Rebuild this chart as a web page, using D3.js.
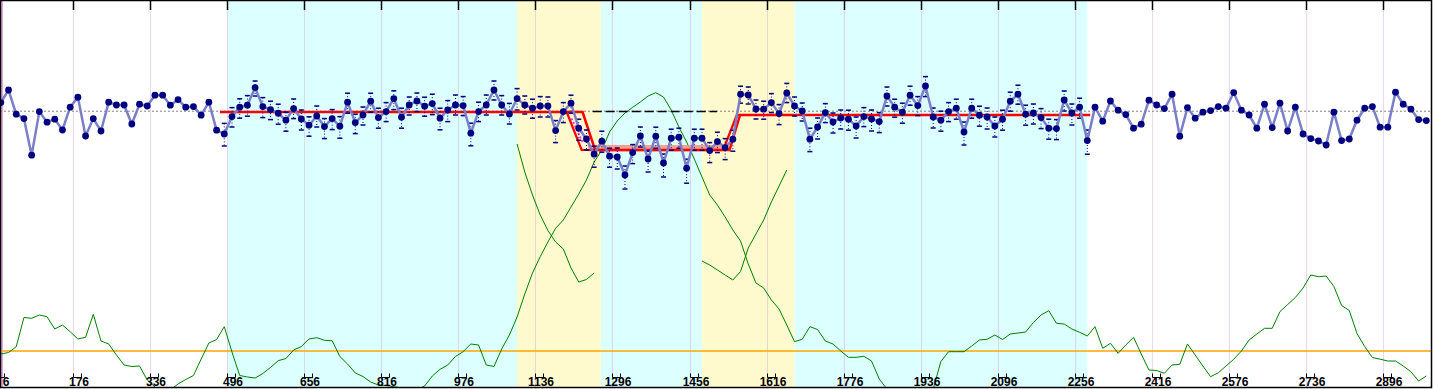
<!DOCTYPE html>
<html><head><meta charset="utf-8">
<script src="https://cdn.jsdelivr.net/npm/d3@7"></script>
<style>body{margin:0;background:#fff}svg{display:block}</style>
</head><body><svg id="c" width="1433" height="389"></svg>
<script>
// ---- data ----
const firstSample = 26, sampleStep = 16;
const values = [48.7,55,42.9,40.7,22.4,44.2,38.9,40.4,35,46.4,51.4,32,40.7,34.5,48.9,47.5,47.5,38,47.9,47,
52.4,52.4,47.4,50.2,46.4,46.7,42.4,48.9,34.9,33,41.7,46.4,47.4,56.2,46.7,45.2,43.4,39.9,45.7,40.5,
37.4,42,36.7,40.7,36.9,48.9,38.7,42.5,49.4,41.2,44.2,50.7,41.4,47.5,49.5,46.9,48.2,40.9,45,47.5,
47.2,33.4,44.2,47.5,55,47.5,43,50.7,47.5,45.9,47,47,34.7,44.2,48.4,35.9,30.5,22.9,29.4,21.9,
21.5,12.5,23.7,32,20.5,31.9,18.5,30.9,31.4,15.9,30.9,30.9,24.7,29.2,26.2,30.4,52.9,52.5,45.5,45.4,
48.7,43.2,53.5,47,44.5,30.4,36.5,43.7,39,41,40.4,37,41.7,40.5,39.2,52,46.4,43.9,52.4,47.2,
57,41.5,39.9,44.2,45.9,34,45.9,42.4,41.5,37,40.4,49.4,52.9,42.9,43.5,41.2,35.9,35.7,50,43.5,
46.4,29.7,46.4,39.4,49.5,44.9,42.7,35.9,37.9,49.9,47.5,45.7,52.9,31.9,46.2,40.9,43.9,44.7,46.7,45.9,
53.7,44.9,42.5,35.9,47.9,36.2,48.4,34.5,46.4,33,30.7,29.5,27.5,43.9,29.7,30.5,39.9,45.9,46.7,36.4,
36.4,53.9,47.9,45.4,40.2,39.7];
// error bar spreads for samples 29..141
const errFirst = 29;
const errHi = [5.3,4.5,4.2,4.8,3.3,4.5,4.2,4.5,4.0,4.8,4.5,4.2,5.0,4.0,4.5,4.8,4.5,4.2,4.0,4.0,
4.7,4.5,3.9,4.5,4.0,4.0,4.5,4.7,5.0,4.7,5.0,4.5,5.0,4.7,5.0,4.5,4.7,5.3,5.0,4.5,
4.5,4.7,4.5,5.0,4.5,4.0,4.5,4.5,4.0,5.0,4.0,4.5,4.5,4.0,4.5,4.0,4.5,4.5,4.5,4.5,
4.5,4.5,4.5,4.0,4.7,4.5,4.5,4.0,4.0,4.5,4.0,4.5,4.5,4.8,4.5,4.0,5.5,4.5,4.5,4.5,
4.0,4.5,4.5,4.5,4.5,4.5,4.5,4.0,4.5,4.5,4.5,4.7,4.5,4.5,4.5,4.5,5.0,4.5,4.5,4.5,
4.5,4.5,4.5,4.5,4.5,4.5,4.5,4.5,4.5,4.5,4.5,4.5,5.3];
const errLo = [6.0,5.2,5.5,5.5,4.2,5.5,5.0,5.5,5.5,5.0,5.5,5.5,5.5,6.0,5.5,6.0,5.5,5.5,5.0,5.5,
5.3,5.0,5.5,5.5,5.0,5.3,5.0,5.5,5.8,5.8,5.0,5.0,6.3,5.0,5.0,5.0,5.0,5.0,5.7,4.5,
5.0,5.5,5.5,6.0,5.5,5.0,6.0,5.5,6.5,5.5,5.5,6.0,7.0,5.5,5.5,6.5,6.0,7.0,6.0,5.5,
7.5,6.0,6.0,6.0,5.5,6.0,6.0,4.5,4.5,5.0,5.0,5.0,5.5,4.8,5.0,5.0,6.2,6.0,5.0,5.5,
5.5,5.5,6.0,5.0,6.0,5.5,5.0,5.0,5.5,5.0,5.0,5.3,5.5,5.5,5.0,5.5,6.5,5.0,5.5,6.0,
5.5,5.5,5.0,5.0,5.5,5.5,5.5,5.5,5.5,5.5,6.0,5.5,6.8];
// lower statistic (green) per sample
const stat = [35,36.5,42.3,71.5,70.7,74,72.3,60,64,57.3,50,51.7,74.7,48,45,34,24,22.5,23,9,
2,-4,-1,5,9.5,13.5,30,46,49.5,62.3,37,13.5,12,11,15.5,21.5,28.3,30.5,39,42.5,
50,51.3,48.7,48.3,32.5,25,16,12.5,7,4,3.5,2.3,1,0,-1,3,13,19.7,24,32.5,
37.3,45,44,24,22.5,40,54,72,95,116,132.3,147,160.7,169,182,195,209,227,239,257,
268,276,281.7,287,293,296.3,292,279,262,247,230,212,194,184,172,159,148,125,106,101,
89,80,64,47.3,49.7,62.3,59.5,48,45,38,31.7,31.7,32.7,28,10,0,-3,-4,-4,-4,
-3,0,27.5,37.3,37.3,37.3,43,49,49.7,54,49.5,55,56,57,66.5,74,78.3,65.7,65,60,
56.7,53,62.3,40.7,45.7,35.7,44,51.7,35,19,18.5,15.7,24,24.7,45,34,23,12.3,16.2,23,
29.7,38,49,55,60.7,60.7,77.3,84.5,91.5,101,114,112.3,113,102.5,83.5,78.5,55.5,42.5,31.5,29.8,
28,28,23,17.3,8,13];
const curveAFirst = 67, curveA = [245,217,194,174,158.5,147,140,121,107,109.5,116];
const curveBFirst = 91, curveB = [128,124,119,114,109,117.5,141,155,169,187,203,219];
const statLimit = 38;
const meanLevel = 44.4;
const refLevel = 44.2, refSpan = [1255, 1513];
const levelPath = [[481,44],[1234,44],[1260,25],[1539,25],[1561,42.5],[2288,42.5]];
const shiftEdges = [[[1201,44],[1232,25],[1260,25]], [[1526,25],[1554,42.5],[1561,42.5]]];
const shiftHints = [[[1211,40.8],[1235,28.4]], [[1542,27.5],[1556,41.5]]];
const bandSpan = [1245, 1523], bandLevels = [27.5, 24.3];
const regions = [[496,1098,"cyan"],[1098,1272,"yellow"],[1272,1482,"cyan"],[1482,1674,"yellow"],[1674,2282,"cyan"]];
const tickValues = [16,176,336,496,656,816,976,1136,1296,1456,1616,1776,1936,2096,2256,2416,2576,2736,2896];
const tickLabels = ["6","176","336","496","656","816","976","1136","1296","1456","1616","1776","1936","2096","2256","2416","2576","2736","2896"];

// ---- drawing ----
const W = 1433, H = 389;
const svg = d3.select("#c");
const x = d3.scaleLinear().domain([16, 2896]).range([-4, 1383]);
const y = d3.scaleLinear().domain([0, 100]).range([200, 0]);
const yS = d3.scaleLinear().domain([0, 300]).range([389, 89]);
const sx = k => x(firstSample + sampleStep * k);

svg.append("defs").append("clipPath").attr("id","clip")
  .append("rect").attr("x",0).attr("y",0).attr("width",W-1).attr("height",388);
const g = svg.append("g").attr("clip-path","url(#clip)");

g.append("rect").attr("x",0).attr("y",0).attr("width",W).attr("height",H).attr("fill","#fff");
const colors = {cyan:"#dcffff", yellow:"#fffacd"};
g.selectAll("rect.band").data(regions).join("rect").attr("class","band")
  .attr("x", d => x(d[0])).attr("width", d => x(d[1]) - x(d[0]))
  .attr("y",0).attr("height",H).attr("fill", d => colors[d[2]]);

// grid
g.selectAll("line.grid").data(tickValues).join("line").attr("class","grid")
  .attr("x1", d => Math.round(x(d)) + 0.5).attr("x2", d => Math.round(x(d)) + 0.5)
  .attr("y1",0).attr("y2",H).attr("stroke","rgba(205,150,215,0.38)").attr("stroke-width",1);
g.append("rect").attr("x",0).attr("y",0).attr("width",3).attr("height",H).attr("fill","#dca6dc");

// limit line (orange)
g.append("line").attr("x1",0).attr("x2",W).attr("y1",yS(statLimit)).attr("y2",yS(statLimit))
  .attr("stroke","#ffa500").attr("stroke-width",1.5);

// green statistic
const gl = d3.line().x(d => sx(d[0])).y(d => yS(d[1]));
g.append("path").attr("d", gl(stat.map((v,i)=>[i,v]))).attr("fill","none").attr("stroke","#008000").attr("stroke-width",1);
g.append("path").attr("d", gl(curveA.map((v,i)=>[i+curveAFirst,v]))).attr("fill","none").attr("stroke","#008000").attr("stroke-width",1);
g.append("path").attr("d", gl(curveB.map((v,i)=>[i+curveBFirst,v]))).attr("fill","none").attr("stroke","#008000").attr("stroke-width",1);

// mean dotted
g.append("line").attr("x1",0).attr("x2",W).attr("y1",y(meanLevel)).attr("y2",y(meanLevel))
  .attr("stroke","#808080").attr("stroke-width",1).attr("stroke-dasharray","2,2");
// reference dashed
g.append("line").attr("x1",x(refSpan[0])).attr("x2",x(refSpan[1])).attr("y1",y(refLevel)).attr("y2",y(refLevel))
  .attr("stroke","#000").attr("stroke-width",1.5).attr("stroke-dasharray","9,4");
// salmon band
g.append("rect").attr("x",x(bandSpan[0])).attr("width",x(bandSpan[1])-x(bandSpan[0]))
  .attr("y",y(bandLevels[0])).attr("height",y(bandLevels[1])-y(bandLevels[0]))
  .attr("fill","#f4937e").attr("opacity",0.85);

// red levels
const rl = d3.line().x(d => x(d[0])).y(d => y(d[1]));
shiftHints.forEach(p => g.append("path").attr("d", rl(p)).attr("fill","none")
  .attr("stroke","#ff33cc").attr("stroke-width",2).attr("stroke-dasharray","2,2"));
g.append("path").attr("d", rl(levelPath)).attr("fill","none").attr("stroke","#ff0000").attr("stroke-width",2.5);
shiftEdges.forEach(p => g.append("path").attr("d", rl(p)).attr("fill","none")
  .attr("stroke","#ff0000").attr("stroke-width",2.2));

// error bars
const eb = errHi.map((h,i) => ({k:i+errFirst, v:values[i+errFirst], hi:h, lo:errLo[i]}));
const ebg = g.append("g");
eb.forEach(d => {
  const cx = sx(d.k), yt = y(d.v + d.hi), yb = y(d.v - d.lo);
  ebg.append("line").attr("x1",cx).attr("x2",cx).attr("y1",yt).attr("y2",yb)
    .attr("stroke","#000080").attr("stroke-width",1).attr("stroke-dasharray","1,2");
  [yt, yb].forEach(yy => ebg.append("line").attr("x1",cx-2.5).attr("x2",cx+2.5).attr("y1",yy).attr("y2",yy)
    .attr("stroke","#000080").attr("stroke-width",1.5));
});

// main series
const ml = d3.line().x((d,i) => sx(i)).y(d => y(d));
g.append("path").attr("d", ml(values)).attr("fill","none").attr("stroke","#7a7fc8").attr("stroke-width",2.5);
g.selectAll("circle.pt").data(values).join("circle").attr("class","pt")
  .attr("cx",(d,i)=>sx(i)).attr("cy",d=>y(d)).attr("r",3.4).attr("fill","#000080");

// top ticks
g.selectAll("line.tt").data(tickValues).join("line").attr("class","tt")
  .attr("x1", d => Math.round(x(d)) + 0.5).attr("x2", d => Math.round(x(d)) + 0.5)
  .attr("y1",0).attr("y2",10).attr("stroke","#000").attr("stroke-width",1.5);
// bottom ticks with brackets
const bt = g.selectAll("g.bt").data(tickValues.map((v,i)=>({v, label:tickLabels[i]}))).join("g").attr("class","bt")
  .attr("transform", d => `translate(${Math.round(x(d.v)) + 0.5},0)`);
bt.append("path").attr("d","M0,373.5V377.5H8V373.5").attr("fill","none").attr("stroke","#000").attr("stroke-width",1);
bt.append("text").attr("x",5.5).attr("y",386).attr("text-anchor","middle")
  .attr("font-family","'Liberation Sans', Arial, sans-serif").attr("font-weight","bold").attr("font-size","12px")
  .attr("fill","#000").text(d => d.label);
// keep the edge label fully inside the frame
bt.filter((d,i) => i === 0).select("text").attr("x", 9.5);

// frame
svg.append("rect").attr("x",0.5).attr("y",0.5).attr("width",W-2).attr("height",387)
  .attr("fill","none").attr("stroke","#000").attr("stroke-width",1.5);
</script></body></html>
